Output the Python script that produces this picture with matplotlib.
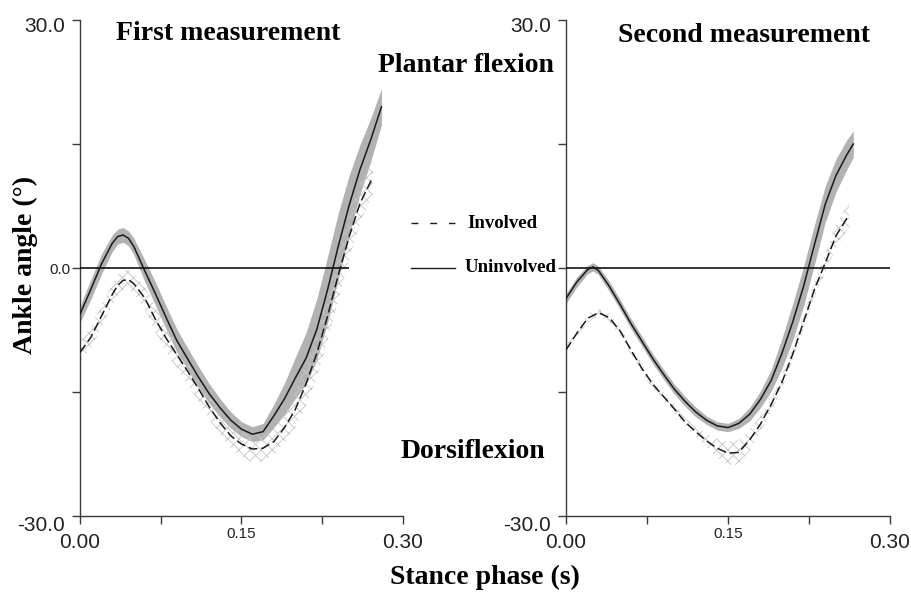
import numpy as np
import matplotlib
matplotlib.use("Agg")
import matplotlib.pyplot as plt
from matplotlib.lines import Line2D
from matplotlib.transforms import ScaledTranslation

# ---- datos ----
# primera medicion
t1_uninv = [0.00, 0.01, 0.02, 0.03, 0.035, 0.04, 0.045, 0.05, 0.06, 0.07, 0.08, 0.09,
            0.10, 0.11, 0.12, 0.13, 0.14, 0.15, 0.16, 0.17, 0.18, 0.19,
            0.20, 0.21, 0.22, 0.23, 0.24, 0.25, 0.26, 0.27, 0.28]
m1_uninv = [-5.6, -2.6, 0.5, 3.0, 3.8, 4.0, 3.6, 2.6, -0.3, -3.1, -6.0, -8.8,
            -11.0, -13.2, -15.2, -16.9, -18.4, -19.5, -20.1, -19.8, -17.9, -15.8,
            -13.3, -10.9, -7.4, -2.6, 2.7, 7.6, 11.9, 15.5, 19.5]
sd1_uninv = [1.0, 1.2, 1.2, 1.0, 0.9, 0.9, 0.9, 1.0, 1.3, 1.4, 1.4, 1.4,
             1.3, 1.3, 1.2, 1.1, 1.0, 0.9, 0.9, 1.0, 1.4, 1.9,
             2.5, 3.1, 3.7, 4.0, 4.0, 3.6, 3.0, 2.6, 2.2]

t1_inv = [0.00, 0.01, 0.02, 0.03, 0.035, 0.04, 0.045, 0.05, 0.06, 0.07, 0.08, 0.09,
          0.10, 0.11, 0.12, 0.13, 0.14, 0.15, 0.16, 0.17, 0.18, 0.19,
          0.20, 0.21, 0.22, 0.23, 0.24, 0.25, 0.26, 0.272]
m1_inv = [-10.2, -8.4, -5.8, -3.2, -2.1, -1.5, -1.4, -1.9, -3.6, -6.2, -8.5, -10.5,
          -12.5, -14.6, -16.8, -18.7, -20.3, -21.3, -21.9, -21.8, -21.0, -19.3,
          -17.1, -14.0, -10.3, -5.8, -0.8, 3.8, 7.8, 11.0]
sd1_inv = [1.2, 1.3, 1.4, 1.3, 1.3, 1.2, 1.2, 1.2, 1.4, 1.6, 1.7, 1.7,
           1.6, 1.6, 1.5, 1.5, 1.5, 1.5, 1.6, 1.6, 1.6, 1.8,
           2.2, 2.6, 3.0, 3.0, 3.0, 2.8, 2.4, 2.0]

# segunda medicion
t2_uninv = [0.00, 0.01, 0.02, 0.025, 0.03, 0.04, 0.05, 0.06, 0.07, 0.08, 0.09,
            0.10, 0.11, 0.12, 0.13, 0.14, 0.15, 0.16, 0.17, 0.18, 0.19,
            0.20, 0.21, 0.22, 0.23, 0.24, 0.25, 0.26, 0.266]
m2_uninv = [-3.7, -1.7, -0.2, 0.15, -0.3, -2.2, -4.4, -6.7, -8.8, -10.9, -12.8,
            -14.6, -16.1, -17.4, -18.4, -19.1, -19.3, -18.8, -17.7, -15.9, -13.6,
            -10.3, -6.5, -2.2, 2.8, 7.7, 11.2, 13.7, 15.0]
sd2_uninv = [0.6, 0.6, 0.5, 0.5, 0.5, 0.6, 0.6, 0.6, 0.6, 0.6, 0.6,
             0.6, 0.6, 0.6, 0.5, 0.5, 0.5, 0.6, 0.8, 1.0, 1.3,
             1.8, 2.2, 2.4, 2.4, 2.2, 2.0, 1.8, 1.6]

t2_inv = [0.00, 0.01, 0.02, 0.03, 0.04, 0.05, 0.06, 0.07, 0.08, 0.09,
          0.10, 0.11, 0.12, 0.13, 0.14, 0.15, 0.16, 0.17, 0.18, 0.19,
          0.20, 0.21, 0.22, 0.23, 0.24, 0.25, 0.26, 0.262]
m2_inv = [-9.9, -7.9, -6.1, -5.4, -6.0, -7.6, -9.9, -12.1, -14.0, -15.5,
          -17.0, -18.6, -19.8, -20.9, -21.8, -22.4, -22.3, -20.8, -18.9, -16.5,
          -13.8, -10.4, -6.5, -2.6, 0.6, 3.9, 6.0, 6.3]
sd2_inv = [0.5, 0.5, 0.5, 0.5, 0.5, 0.5, 0.5, 0.5, 0.5, 0.5,
           0.5, 0.5, 0.6, 0.8, 1.1, 1.4, 1.5, 1.3, 1.0, 0.8,
           0.8, 0.8, 0.9, 1.0, 1.2, 1.4, 1.5, 1.5]

# fin de la linea del cero en cada panel
zero_end = [0.25, 0.30]

titles = ["First measurement", "Second measurement"]
yticks = [-30, -15, 0, 15, 30]
ytick_labels = [["-30.0", "", "0.0", "", "30.0"],
                ["-30.0", "", "", "", "30.0"]]
xticks = [0.0, 0.075, 0.15, 0.225, 0.30]
xtick_labels = ["0.00", "", "0.15", "", "0.30"]

SERIF = "Liberation Serif"
SANS = "Liberation Sans"
AXIS_COL = "#3a3a3a"
LINE_COL = "#1a1a1a"

plt.rcParams["hatch.linewidth"] = 0.6

fig = plt.figure(figsize=(9.12, 5.92), dpi=100)
W, H = 912.0, 592.0

def fx(px):
    return px / W

def fy(py):
    return 1 - py / H

ax1 = fig.add_axes([fx(80), fy(516), fx(403) - fx(80), fy(20) - fy(516)])
ax2 = fig.add_axes([fx(566), fy(516), fx(890) - fx(566), fy(20) - fy(516)])

panels = [
    (ax1, t1_uninv, m1_uninv, sd1_uninv, t1_inv, m1_inv, sd1_inv),
    (ax2, t2_uninv, m2_uninv, sd2_uninv, t2_inv, m2_inv, sd2_inv),
]

for k, (ax, tu, mu, su, ti, mi, si) in enumerate(panels):
    tu, mu, su = np.array(tu), np.array(mu), np.array(su)
    ti, mi, si = np.array(ti), np.array(mi), np.array(si)

    # banda de desviacion (no afectado) en gris
    ax.fill_between(tu, mu - su, mu + su, color="#b2b2b2", linewidth=0, zorder=1)
    # banda rayada (afectado)
    ax.fill_between(ti, mi - si, mi + si, facecolor="none", edgecolor="#c4c4c4",
                    hatch="xxx", linewidth=0, zorder=2)

    ax.hlines(0, 0, zero_end[k], color="black", linewidth=1.1, zorder=3, clip_on=False)

    ax.plot(ti, mi, color=LINE_COL, linewidth=1.1, linestyle=(0, (6, 2.5)), zorder=4)
    ax.plot(tu, mu, color=LINE_COL, linewidth=1.1, zorder=5)

    ax.set_xlim(0, 0.30)
    ax.set_ylim(-30, 30)
    for s in ["top", "right"]:
        ax.spines[s].set_visible(False)
    for s in ["left", "bottom"]:
        ax.spines[s].set_color(AXIS_COL)
        ax.spines[s].set_linewidth(1.0)

    ax.set_yticks(yticks)
    ax.set_yticklabels(ytick_labels[k])
    ax.set_xticks(xticks)
    ax.set_xticklabels(xtick_labels)
    ax.tick_params(axis="both", direction="out", length=6, width=1.0, color=AXIS_COL)
    ax.tick_params(axis="y", pad=5)
    ax.tick_params(axis="x", pad=2)

    for lab in ax.get_yticklabels():
        lab.set_fontfamily(SANS)
        lab.set_color("#222222")
        txt = lab.get_text()
        if txt == "0.0":
            lab.set_fontsize(11)
            lab.set_transform(lab.get_transform() + ScaledTranslation(0.06, 0, fig.dpi_scale_trans))
        else:
            lab.set_fontsize(15)
            lab.set_verticalalignment("top")
            if txt == "30.0":
                lab.set_transform(lab.get_transform() + ScaledTranslation(0, 0.03, fig.dpi_scale_trans))
    for lab in ax.get_xticklabels():
        lab.set_fontfamily(SANS)
        lab.set_color("#222222")
        if lab.get_text() == "0.15":
            lab.set_fontsize(11)
        else:
            lab.set_fontsize(15)
            lab.set_transform(lab.get_transform() + ScaledTranslation(0, -0.06, fig.dpi_scale_trans))

    ax.patch.set_visible(False)

# textos
fig.text(fx(228), fy(34), titles[0], family=SERIF, weight="bold", fontsize=20,
         ha="center", va="center")
fig.text(fx(744), fy(35), titles[1], family=SERIF, weight="bold", fontsize=20,
         ha="center", va="center")
fig.text(fx(466), fy(65), "Plantar flexion", family=SERIF, weight="bold", fontsize=20,
         ha="center", va="center")
fig.text(fx(473), fy(452), "Dorsiflexion", family=SERIF, weight="bold", fontsize=20,
         ha="center", va="center")
fig.text(fx(485), fy(577), "Stance phase (s)", family=SERIF, weight="bold", fontsize=20,
         ha="center", va="center")
fig.text(fx(25), fy(265), "Ankle angle (°)", family=SERIF, weight="bold", fontsize=20,
         ha="center", va="center", rotation=90)

# leyenda a mano entre los paneles
fig.add_artist(Line2D([fx(411), fx(455)], [fy(223), fy(223)], color=LINE_COL,
                      linewidth=1.0, linestyle=(0, (5, 8.5))))
fig.add_artist(Line2D([fx(411), fx(455)], [fy(268), fy(268)], color=LINE_COL,
                      linewidth=1.0))
fig.text(fx(467), fy(223), "Involved", family=SERIF, weight="bold", fontsize=13.5,
         ha="left", va="center")
fig.text(fx(465), fy(268), "Uninvolved", family=SERIF, weight="bold", fontsize=13.5,
         ha="left", va="center")

fig.savefig("out.png", dpi=100, facecolor="white")
